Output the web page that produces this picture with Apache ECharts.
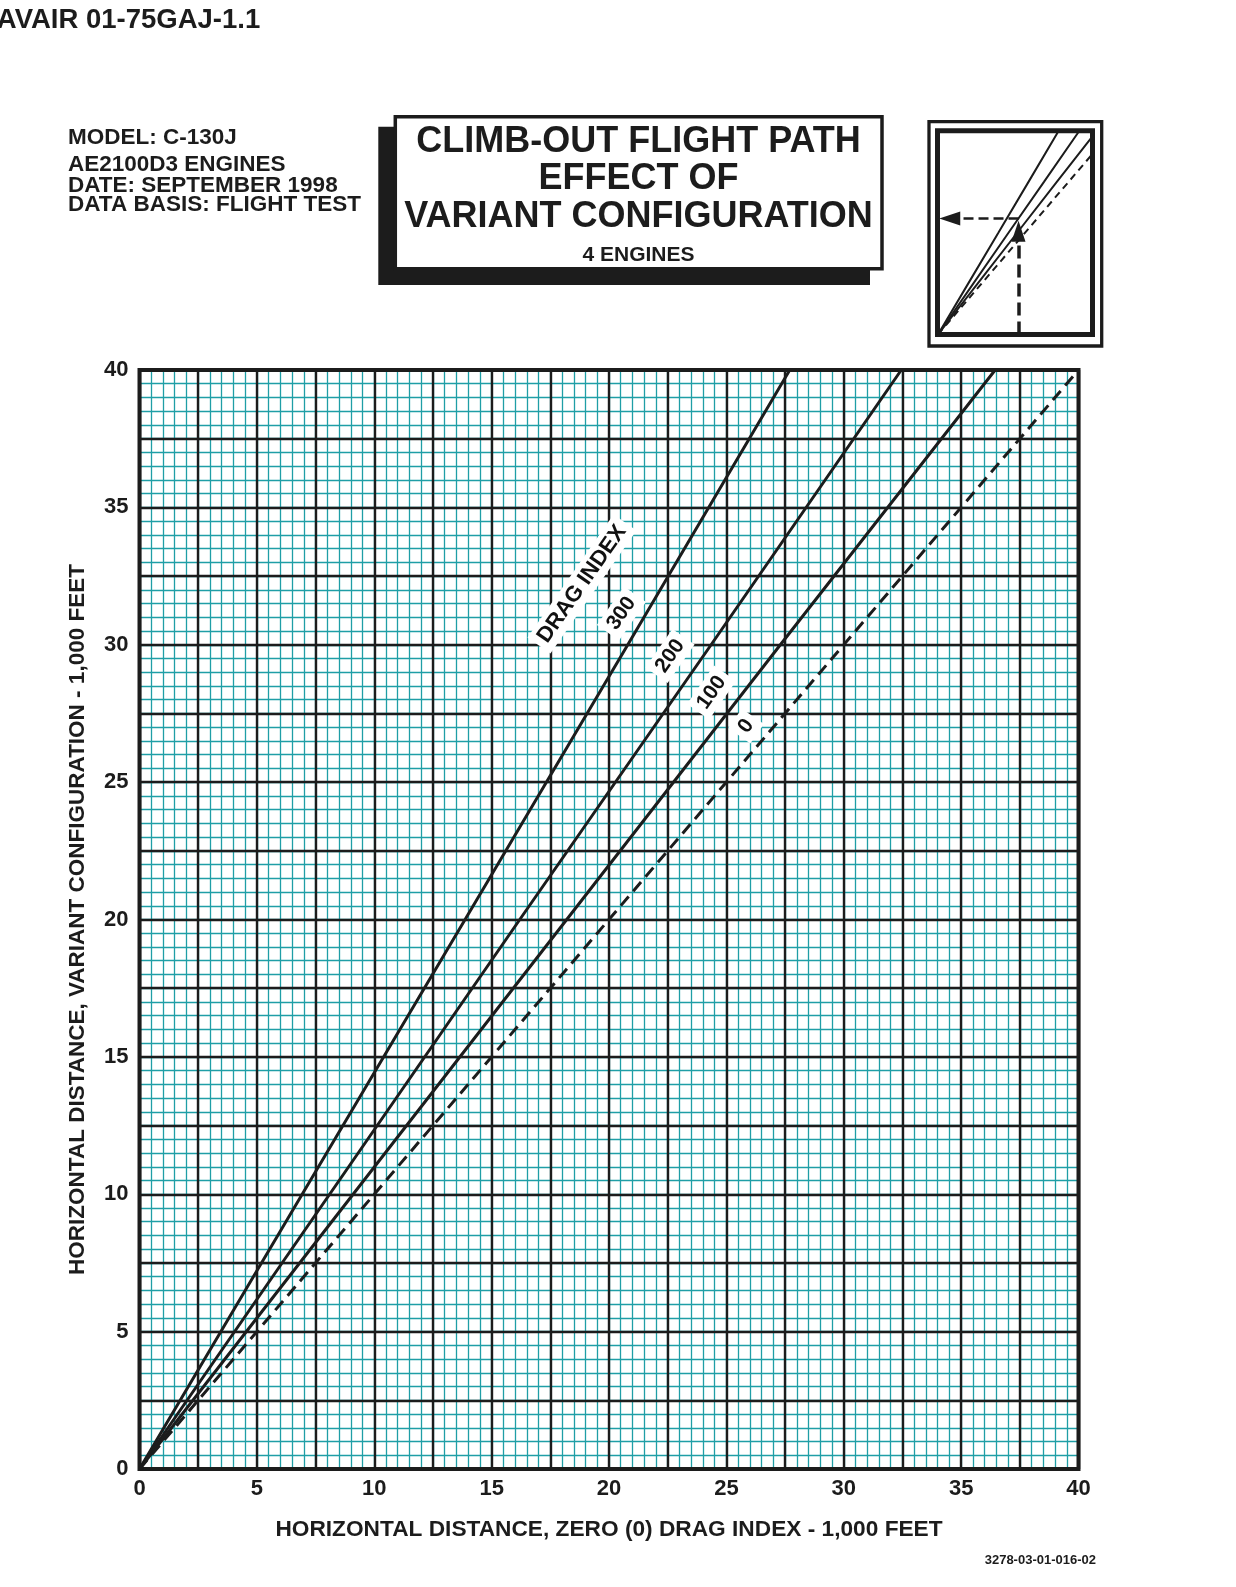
<!DOCTYPE html>
<html><head><meta charset="utf-8">
<script src="https://cdn.jsdelivr.net/npm/echarts@6/dist/echarts.min.js"></script>
<style>html,body{margin:0;padding:0;background:#fff}#c{width:1236px;height:1587px}</style>
</head><body><div id="c"></div>
<script>
// ---- data ----
const dragIndexNames = ['300', '200', '100', '0'];
const di300 = [[0,0],[6.93,10],[13.87,20],[20.8,30],[27.7,40]];
const di200 = [[0,0],[8.1,10],[16.2,20],[24.35,30],[32.45,40]];
const di100 = [[0,0],[9.1,10],[18.2,20],[27.3,30],[36.45,40]];
const di0   = [[0,0],[40,40]];
const xTickLabels = [0,5,10,15,20,25,30,35,40];
const yTickLabels = [0,5,10,15,20,25,30,35,40];
const curveLabelTexts = ['DRAG INDEX','300','200','100','0'];
const curveLabelX = [18.85,20.53,22.6,24.37,25.84];
const curveLabelY = [32.21,31.14,29.59,28.26,27.04];
const insetGuideUp = [[18.5,0],[18.5,20.3]];
const insetGuideLeft = [[18.5,22.8],[2.7,22.8]];

const FF = '"Liberation Sans", Arial, Helvetica, sans-serif';
const BLK = '#1c1c1c';
const TEAL = '#1f9ea6';
const GL = 139.5, GT = 370, GW = 939, GH = 1099;

const chart = echarts.init(document.getElementById('c'), null, {renderer:'canvas', width:1236, height:1587});

function txt(text, x, y, size, align, extra) {
  return Object.assign({
    type:'text', x:x, y:y, z:50,
    style:{text:text, x:0, y:0, font:'bold ' + size + 'px ' + FF, fill:BLK,
      textAlign:align, align:align, textVerticalAlign:'middle', verticalAlign:'middle'}
  }, extra || {});
}

const labelStyleBase = {show:true, position:'inside', color:'#111', fontWeight:'bold', fontFamily:FF,
  backgroundColor:'#fff', padding:[3,6], rotate:55, textBorderWidth:0, opacity:1};

const option = {
  animation:false,
  backgroundColor:'#fff',
  grid:[
    {left:GL, top:GT, width:GW, height:GH, show:false},
    {left:938, top:131, width:154.5, height:203.5, show:false}
  ],
  xAxis:[
    {gridIndex:0, type:'value', position:'bottom', min:0, max:40, interval:0.5, z:0,
     axisLine:{show:false}, axisTick:{show:false}, axisLabel:{show:false},
     splitLine:{show:true, lineStyle:{color:TEAL, width:1.3}}},
    {gridIndex:0, type:'value', position:'bottom', min:0, max:40, interval:2.5, z:1,
     axisLine:{show:false}, axisTick:{show:false},
     axisLabel:{show:true, margin:9, color:BLK, fontSize:22, fontWeight:'bold', fontFamily:FF,
       formatter:function(v){ return xTickLabels.indexOf(v) >= 0 ? String(v) : ''; }},
     splitLine:{show:true, lineStyle:{color:BLK, width:2.4}},
     name:'HORIZONTAL DISTANCE, ZERO (0) DRAG INDEX - 1,000 FEET', nameLocation:'middle', nameGap:49,
     nameTextStyle:{color:BLK, fontSize:22.7, fontWeight:'bold', fontFamily:FF}},
    {gridIndex:1, type:'value', min:0, max:35.5, show:false}
  ],
  yAxis:[
    {gridIndex:0, type:'value', position:'left', min:0, max:40, interval:0.5, z:0,
     axisLine:{show:false}, axisTick:{show:false}, axisLabel:{show:false},
     splitLine:{show:true, lineStyle:{color:TEAL, width:1.3}}},
    {gridIndex:0, type:'value', position:'left', min:0, max:40, interval:2.5, z:1,
     axisLine:{show:false}, axisTick:{show:false},
     axisLabel:{show:true, margin:11, color:BLK, fontSize:22, fontWeight:'bold', fontFamily:FF,
       formatter:function(v){ return yTickLabels.indexOf(v) >= 0 ? String(v) : ''; }},
     splitLine:{show:true, lineStyle:{color:BLK, width:2.4}},
     name:'HORIZONTAL DISTANCE, VARIANT CONFIGURATION - 1,000 FEET', nameLocation:'middle', nameGap:50,
     nameTextStyle:{color:BLK, fontSize:22.5, fontWeight:'bold', fontFamily:FF}},
    {gridIndex:1, type:'value', min:0, max:40, show:false}
  ],
  series:[
    {type:'line', name:dragIndexNames[0], xAxisIndex:1, yAxisIndex:1, data:di300, symbol:'none', z:5, silent:true,
     lineStyle:{color:BLK, width:3}},
    {type:'line', name:dragIndexNames[1], xAxisIndex:1, yAxisIndex:1, data:di200, symbol:'none', z:5, silent:true,
     lineStyle:{color:BLK, width:3}},
    {type:'line', name:dragIndexNames[2], xAxisIndex:1, yAxisIndex:1, data:di100, symbol:'none', z:5, silent:true,
     lineStyle:{color:BLK, width:3}},
    {type:'line', name:dragIndexNames[3], xAxisIndex:1, yAxisIndex:1, data:di0, symbol:'none', z:5, silent:true,
     lineStyle:{color:BLK, width:3, type:[12,7]}},
    // inset diagram
    {type:'line', xAxisIndex:2, yAxisIndex:2, data:di300, symbol:'none', z:5, silent:true, lineStyle:{color:BLK, width:2}},
    {type:'line', xAxisIndex:2, yAxisIndex:2, data:di200, symbol:'none', z:5, silent:true, lineStyle:{color:BLK, width:2}},
    {type:'line', xAxisIndex:2, yAxisIndex:2, data:di100, symbol:'none', z:5, silent:true, lineStyle:{color:BLK, width:2}},
    {type:'line', xAxisIndex:2, yAxisIndex:2, data:di0, symbol:'none', z:5, silent:true, lineStyle:{color:BLK, width:2, type:[7,5]}},
    {type:'lines', coordinateSystem:'cartesian2d', xAxisIndex:2, yAxisIndex:2, z:6, silent:true,
     data:[{coords:insetGuideUp}], symbol:['none','triangle'], symbolSize:[[1,1],[14,21]],
     lineStyle:{color:BLK, width:3.5, type:[13,6], opacity:1}},
    {type:'lines', coordinateSystem:'cartesian2d', xAxisIndex:2, yAxisIndex:2, z:6, silent:true,
     data:[{coords:insetGuideLeft}], symbol:['none','triangle'], symbolSize:[[1,1],[14,21]],
     lineStyle:{color:BLK, width:2.5, type:[10,5], opacity:1}},
    // curve labels
    {type:'scatter', xAxisIndex:1, yAxisIndex:1, z:10, silent:true, symbolSize:0.5,
     itemStyle:{color:'#fff', opacity:1},
     data:curveLabelTexts.map(function(t, i){
       return {value:[curveLabelX[i], curveLabelY[i]],
         label:Object.assign({}, labelStyleBase, {formatter:t, fontSize: i === 0 ? 22 : 21})};
     })}
  ],
  graphic:[
    txt('NAVAIR 01-75GAJ-1.1', -23, 20, 27.5, 'left'),
    txt('MODEL: C-130J', 68, 138, 22.5, 'left'),
    txt('AE2100D3 ENGINES', 68, 165, 22.5, 'left'),
    txt('DATE: SEPTEMBER 1998', 68, 186, 22.5, 'left'),
    txt('DATA BASIS: FLIGHT TEST', 68, 204.5, 22.5, 'left'),
    {type:'rect', z:40, shape:{x:378.3, y:126.7, width:491.7, height:158.3}, style:{fill:BLK}},
    {type:'rect', z:41, shape:{x:395.3, y:116.7, width:486.7, height:152}, style:{fill:'#fff', stroke:BLK, lineWidth:3.5}},
    txt('CLIMB-OUT FLIGHT PATH', 638.5, 142, 36, 'center'),
    txt('EFFECT OF', 638.5, 179, 36, 'center'),
    txt('VARIANT CONFIGURATION', 638.5, 217, 36, 'center'),
    txt('4 ENGINES', 638.5, 255, 21, 'center'),
    {type:'rect', z:60, shape:{x:929, y:121.7, width:172.7, height:224.3}, style:{fill:null, stroke:BLK, lineWidth:3.3}},
    {type:'rect', z:60, shape:{x:937.5, y:130.8, width:155, height:203.7}, style:{fill:null, stroke:BLK, lineWidth:5}},
    {type:'rect', z:60, shape:{x:GL, y:GT, width:GW, height:GH}, style:{fill:null, stroke:BLK, lineWidth:4}},
    txt('3278-03-01-016-02', 1096, 1560, 13, 'right')
  ]
};
chart.setOption(option);
</script>
</body></html>
